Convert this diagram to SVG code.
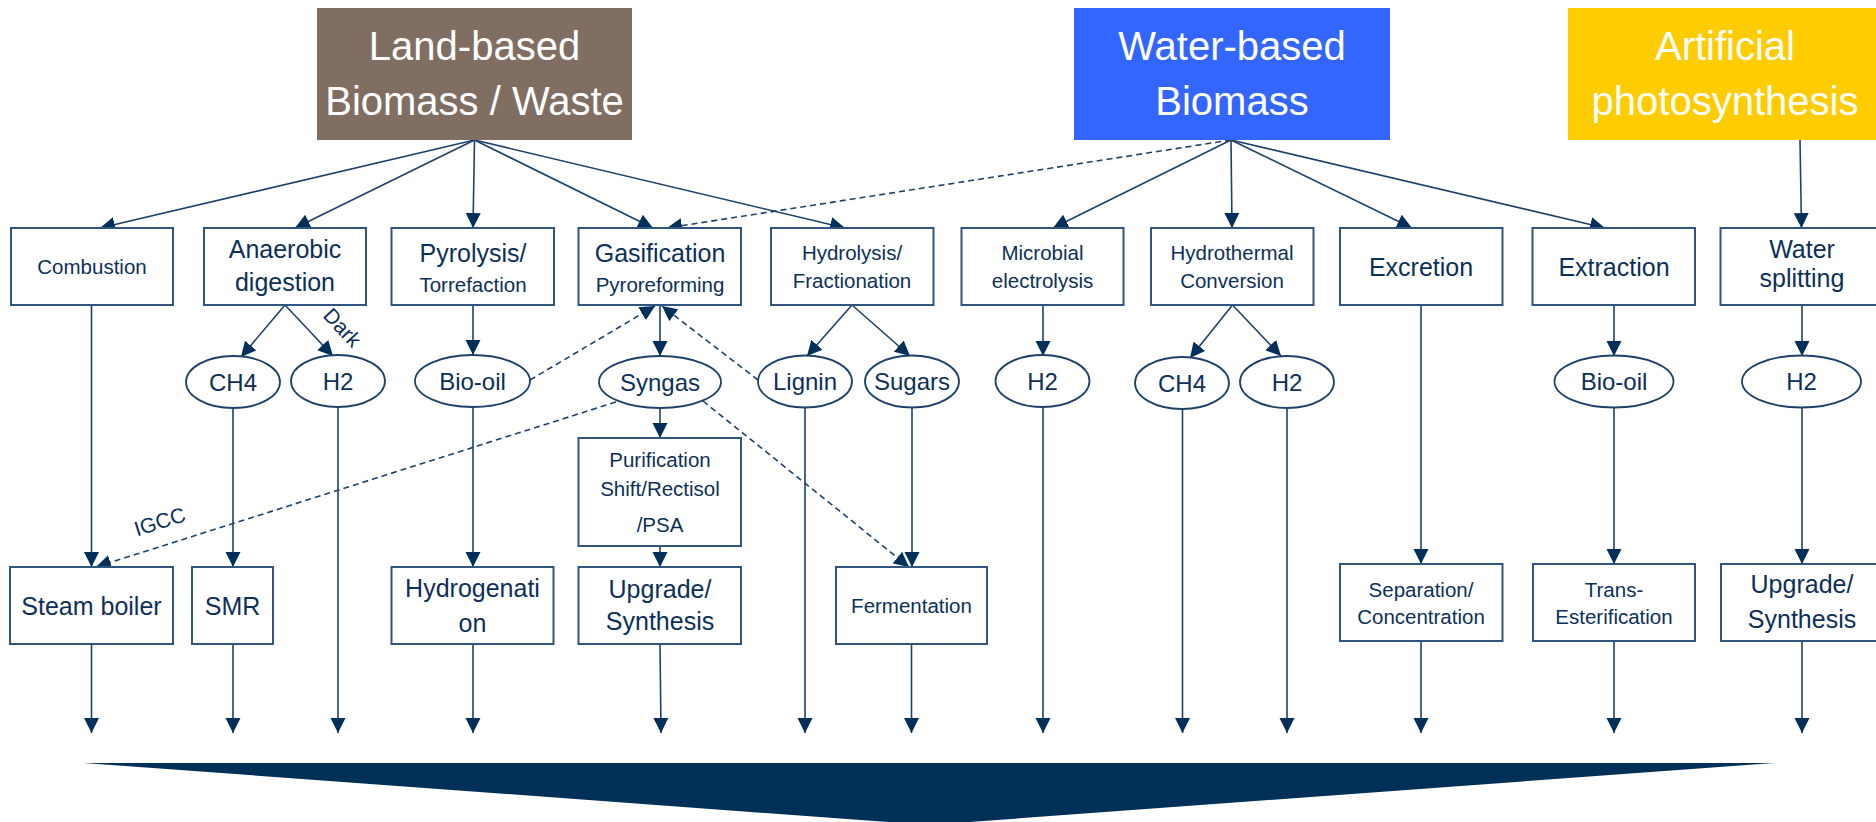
<svg xmlns="http://www.w3.org/2000/svg" width="1876" height="822" viewBox="0 0 1876 822">
<style>
.hdr{font-family:"Liberation Sans",Arial,sans-serif;font-size:40px;fill:#ffffff;text-anchor:middle}
.big{font-family:"Liberation Sans",Arial,sans-serif;font-size:25px;fill:#0d2f5a;text-anchor:middle}
.sm{font-family:"Liberation Sans",Arial,sans-serif;font-size:20.5px;fill:#0d2f5a;text-anchor:middle}
.el{font-family:"Liberation Sans",Arial,sans-serif;font-size:24px;fill:#0d2f5a;text-anchor:middle}
.lbl{font-family:"Liberation Sans",Arial,sans-serif;font-size:21px;fill:#0d2f5a;text-anchor:middle}
.box{fill:#ffffff;stroke:#2f5580;stroke-width:2}
.ell{fill:#ffffff;stroke:#1e416b;stroke-width:1.8}
.c{fill:none;stroke:#1e416b;stroke-width:1.6;marker-end:url(#ah)}
.d{fill:none;stroke:#1e416b;stroke-width:1.6;stroke-dasharray:6 4;marker-end:url(#ah)}
</style>
<defs>
<marker id="ah" markerUnits="userSpaceOnUse" markerWidth="16" markerHeight="16" viewBox="0 0 16 16" refX="15" refY="8" orient="auto">
<path d="M0,0.5 L15,8 L0,15.5 z" fill="#00305a"/>
</marker>
</defs>
<rect width="1876" height="822" fill="#ffffff"/>

<g id="connectors">
<!-- from Land-based -->
<line class="c" x1="474.5" y1="140" x2="100" y2="228"/>
<line class="c" x1="474.5" y1="140" x2="295" y2="228"/>
<line class="c" x1="474.5" y1="140" x2="473" y2="228"/>
<line class="c" x1="474.5" y1="140" x2="653" y2="228"/>
<line class="c" x1="474.5" y1="140" x2="845" y2="228"/>
<!-- from Water-based -->
<line class="d" x1="1231" y1="140" x2="667" y2="228"/>
<line class="c" x1="1231" y1="140" x2="1053" y2="228"/>
<line class="c" x1="1231" y1="140" x2="1232" y2="228"/>
<line class="c" x1="1231" y1="140" x2="1412" y2="228"/>
<line class="c" x1="1231" y1="140" x2="1605" y2="228"/>
<!-- from Artificial -->
<line class="c" x1="1800" y1="140" x2="1801.5" y2="228"/>

<!-- Combustion -->
<line class="c" x1="91.5" y1="305" x2="91.5" y2="567"/>
<line class="c" x1="91.5" y1="644" x2="91.5" y2="733"/>
<!-- Anaerobic -->
<line class="c" x1="285" y1="305" x2="241" y2="357"/>
<line class="c" x1="285" y1="305" x2="333" y2="356"/>
<line class="c" x1="233" y1="408" x2="233" y2="567"/>
<line class="c" x1="233" y1="644" x2="233" y2="733"/>
<line class="c" x1="338" y1="407" x2="338" y2="733"/>
<!-- Pyrolysis -->
<line class="c" x1="473" y1="305" x2="473" y2="355"/>
<line class="c" x1="473" y1="407" x2="473" y2="567"/>
<line class="c" x1="473" y1="644" x2="473" y2="733"/>
<line class="d" x1="530" y1="380" x2="655" y2="306"/>
<!-- Gasification -->
<line class="c" x1="660" y1="305" x2="660" y2="356"/>
<line class="c" x1="660" y1="408" x2="660" y2="438"/>
<line class="c" x1="660" y1="546" x2="660" y2="567"/>
<line class="c" x1="660" y1="644" x2="661" y2="733"/>
<line class="d" x1="616" y1="402" x2="96" y2="567"/>
<line class="d" x1="703" y1="401" x2="909" y2="567"/>
<!-- Hydrolysis -->
<line class="c" x1="852" y1="305" x2="807" y2="356"/>
<line class="c" x1="852" y1="305" x2="910" y2="356"/>
<line class="d" x1="758" y1="380" x2="662" y2="306"/>
<line class="c" x1="805" y1="407" x2="805" y2="733"/>
<line class="c" x1="912" y1="407" x2="912" y2="567"/>
<line class="c" x1="911.5" y1="644" x2="911.5" y2="733"/>
<!-- Microbial -->
<line class="c" x1="1043" y1="305" x2="1043" y2="356"/>
<line class="c" x1="1043" y1="407" x2="1043" y2="733"/>
<!-- Hydrothermal -->
<line class="c" x1="1232.5" y1="305" x2="1190" y2="358"/>
<line class="c" x1="1232.5" y1="305" x2="1281" y2="356"/>
<line class="c" x1="1182.5" y1="409" x2="1182.5" y2="733"/>
<line class="c" x1="1287" y1="408" x2="1287" y2="733"/>
<!-- Excretion -->
<line class="c" x1="1421" y1="305" x2="1421" y2="564"/>
<line class="c" x1="1421" y1="641" x2="1421" y2="733"/>
<!-- Extraction -->
<line class="c" x1="1614" y1="305" x2="1614" y2="356"/>
<line class="c" x1="1614" y1="408" x2="1614" y2="564"/>
<line class="c" x1="1614" y1="641" x2="1614" y2="733"/>
<!-- Water splitting -->
<line class="c" x1="1802" y1="305" x2="1802" y2="356"/>
<line class="c" x1="1802" y1="408" x2="1802" y2="564"/>
<line class="c" x1="1802" y1="641" x2="1802" y2="733"/>
<!-- labels on connectors -->
<text class="lbl" transform="translate(337,332.5) rotate(47)">Dark</text>
<text class="lbl" transform="translate(162,528.5) rotate(-17.6)">IGCC</text>
</g>

<!-- Sources -->
<g id="land">
<rect x="317" y="8" width="315" height="132" fill="#806e63"/>
<text class="hdr" x="474.5" y="60">Land-based</text>
<text class="hdr" x="474.5" y="115">Biomass / Waste</text>
</g>
<g id="water">
<rect x="1074" y="8" width="316" height="132" fill="#3366ff"/>
<text class="hdr" x="1232" y="60">Water-based</text>
<text class="hdr" x="1232" y="115">Biomass</text>
</g>
<g id="artificial">
<rect x="1568" y="8" width="315" height="132" fill="#ffcc00"/>
<text class="hdr" x="1725" y="60">Artificial</text>
<text class="hdr" x="1725" y="115">photosynthesis</text>
</g>

<!-- Process boxes -->
<g id="combustion"><rect class="box" x="11" y="228" width="162" height="77"/><text class="sm" x="92" y="274">Combustion</text></g>
<g id="anaerobic"><rect class="box" x="204" y="228" width="162" height="77"/><text class="big" x="285" y="258">Anaerobic</text><text class="big" x="285" y="291">digestion</text></g>
<g id="pyrolysis"><rect class="box" x="391.5" y="228" width="162.5" height="77"/><text class="big" x="473" y="262">Pyrolysis/</text><text class="sm" x="473" y="291.5">Torrefaction</text></g>
<g id="gasification"><rect class="box" x="578.5" y="228" width="162.5" height="77"/><text class="big" x="660" y="261.5">Gasification</text><text class="sm" x="660" y="291.5">Pyroreforming</text></g>
<g id="hydrolysis"><rect class="box" x="771" y="228" width="162.5" height="77"/><text class="sm" x="852" y="260">Hydrolysis/</text><text class="sm" x="852" y="287.5">Fractionation</text></g>
<g id="microbial"><rect class="box" x="961.5" y="228" width="162" height="77"/><text class="sm" x="1042.5" y="260">Microbial</text><text class="sm" x="1042.5" y="287.5">electrolysis</text></g>
<g id="hydrothermal"><rect class="box" x="1151" y="228" width="162.5" height="77"/><text class="sm" x="1232" y="260">Hydrothermal</text><text class="sm" x="1232" y="287.5">Conversion</text></g>
<g id="excretion"><rect class="box" x="1340" y="228" width="162.5" height="77"/><text class="big" x="1421" y="276">Excretion</text></g>
<g id="extraction"><rect class="box" x="1532.5" y="228" width="162.5" height="77"/><text class="big" x="1614" y="276">Extraction</text></g>
<g id="watersplitting"><rect class="box" x="1720.5" y="228" width="163" height="77"/><text class="big" x="1802" y="258">Water</text><text class="big" x="1802" y="287">splitting</text></g>

<!-- Intermediates -->
<g id="ch4-a"><ellipse class="ell" cx="233" cy="382" rx="47" ry="26"/><text class="el" x="233" y="390.5">CH4</text></g>
<g id="h2-a"><ellipse class="ell" cx="338" cy="381" rx="47" ry="26"/><text class="el" x="338" y="389.5">H2</text></g>
<g id="biooil-a"><ellipse class="ell" cx="472.5" cy="381" rx="57.5" ry="26"/><text class="el" x="472.5" y="389.5">Bio-oil</text></g>
<g id="syngas"><ellipse class="ell" cx="660" cy="382" rx="61" ry="26"/><text class="el" x="660" y="390.5">Syngas</text></g>
<g id="lignin"><ellipse class="ell" cx="805" cy="381.5" rx="47" ry="26"/><text class="el" x="805" y="390">Lignin</text></g>
<g id="sugars"><ellipse class="ell" cx="912" cy="381.5" rx="47" ry="26"/><text class="el" x="912" y="390">Sugars</text></g>
<g id="h2-m"><ellipse class="ell" cx="1042.5" cy="381" rx="47" ry="26"/><text class="el" x="1042.5" y="389.5">H2</text></g>
<g id="ch4-h"><ellipse class="ell" cx="1182" cy="383" rx="47" ry="26"/><text class="el" x="1182" y="391.5">CH4</text></g>
<g id="h2-h"><ellipse class="ell" cx="1287" cy="382" rx="47" ry="26"/><text class="el" x="1287" y="390.5">H2</text></g>
<g id="biooil-e"><ellipse class="ell" cx="1614" cy="381.5" rx="59.5" ry="26"/><text class="el" x="1614" y="390">Bio-oil</text></g>
<g id="h2-w"><ellipse class="ell" cx="1801.5" cy="381.5" rx="59.5" ry="26"/><text class="el" x="1801.5" y="390">H2</text></g>

<g id="purification"><rect class="box" x="578.5" y="438" width="162.5" height="108"/><text class="sm" x="660" y="466.5">Purification</text><text class="sm" x="660" y="496">Shift/Rectisol</text><text class="sm" x="660" y="531.5">/PSA</text></g>

<!-- Bottom boxes -->
<g id="steamboiler"><rect class="box" x="10" y="567" width="163" height="77"/><text class="big" x="91.5" y="615">Steam boiler</text></g>
<g id="smr"><rect class="box" x="192" y="567" width="81" height="77"/><text class="big" x="232.5" y="615">SMR</text></g>
<g id="hydrogenation"><rect class="box" x="391.5" y="567" width="162" height="77"/><text class="big" x="472.5" y="597">Hydrogenati</text><text class="big" x="472.5" y="632">on</text></g>
<g id="upgrade-g"><rect class="box" x="578.5" y="567" width="162.5" height="77"/><text class="big" x="660" y="598">Upgrade/</text><text class="big" x="660" y="630">Synthesis</text></g>
<g id="fermentation"><rect class="box" x="836" y="567" width="151" height="77"/><text class="sm" x="911.5" y="613">Fermentation</text></g>
<g id="separation"><rect class="box" x="1340" y="564" width="162.5" height="77"/><text class="sm" x="1421" y="596.5">Separation/</text><text class="sm" x="1421" y="624">Concentration</text></g>
<g id="trans"><rect class="box" x="1533" y="564" width="162" height="77"/><text class="sm" x="1614" y="596.5">Trans-</text><text class="sm" x="1614" y="624">Esterification</text></g>
<g id="upgrade-w"><rect class="box" x="1721" y="564" width="163" height="77"/><text class="big" x="1802" y="593">Upgrade/</text><text class="big" x="1802" y="628">Synthesis</text></g>

<!-- Output chevron -->
<g id="output"><polygon points="84,763 1774,763 929,825" fill="#003057"/></g>
</svg>
